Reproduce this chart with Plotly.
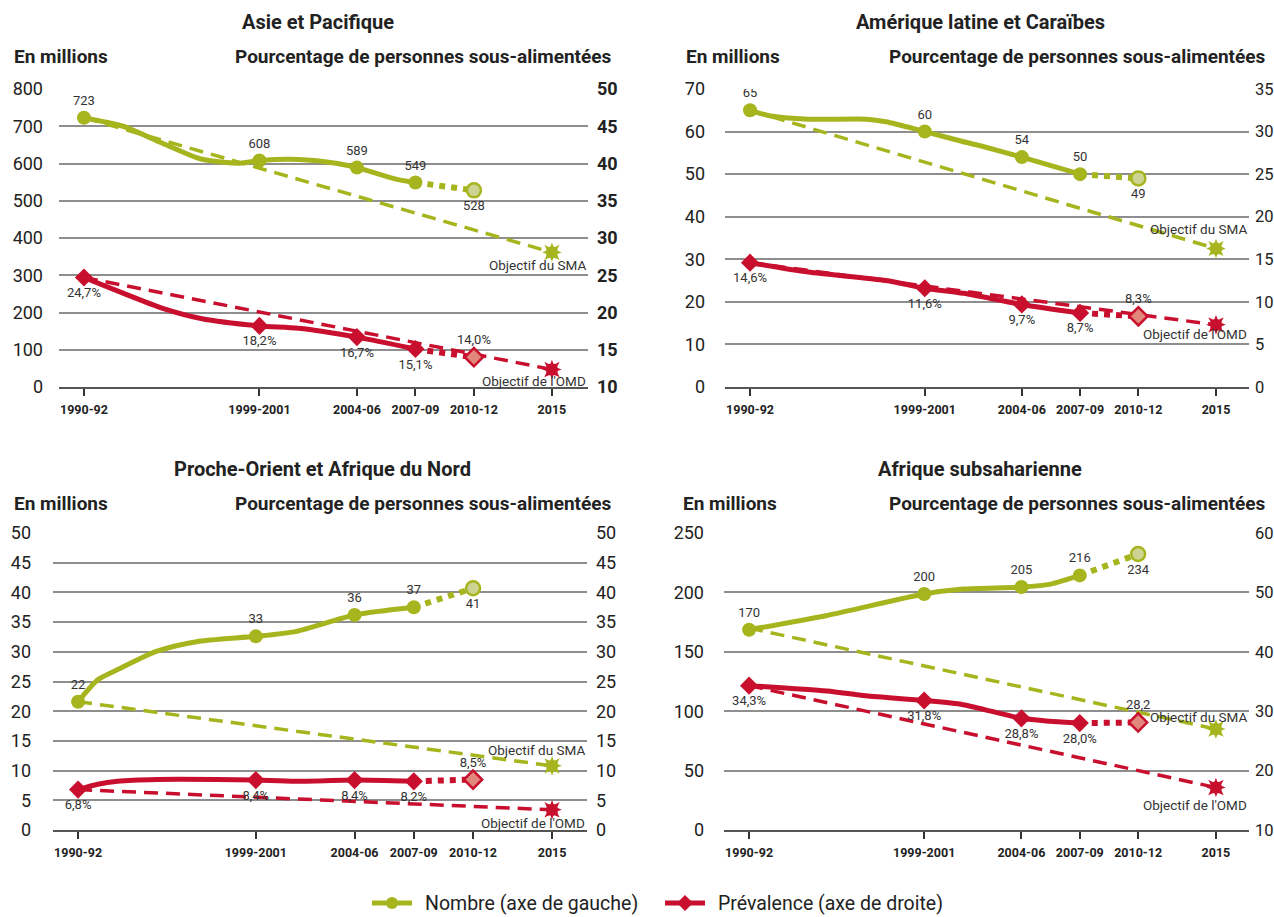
import plotly.graph_objects as go

W, H = 1274, 917

TICK_YEARS = [1991, 2000, 2005, 2008, 2011, 2015]
TICK_LABELS = ["1990-92", "1999-2001", "2004-06", "2007-09", "2010-12", "2015"]
KEY_X = [1991, 2000, 2005, 2008]
PROJ_X = [2008, 2011]
TARGET_X = [1991, 2015]

# ---- Asie et Pacifique ----
asia_num_x = [1991, 1993, 1995, 1997, 1999, 2000, 2002, 2004, 2005, 2007, 2008]
asia_num_y = [723, 700, 655, 612, 601, 608, 611, 600, 589, 558, 549]
asia_num_key = [723, 608, 589, 549]
asia_num_key_lab = ["723", "608", "589", "549"]
asia_num_proj = [549, 528]
asia_num_last_lab = "528"
asia_num_target = [723, 361.5]
asia_prev_x = [1991, 1993, 1995, 1997, 2000, 2002, 2005, 2008]
asia_prev_y = [24.7, 22.6, 20.6, 19.2, 18.2, 17.9, 16.7, 15.1]
asia_prev_key = [24.7, 18.2, 16.7, 15.1]
asia_prev_key_lab = ["24,7%", "18,2%", "16,7%", "15,1%"]
asia_prev_proj = [15.1, 14.0]
asia_prev_last_lab = "14,0%"
asia_prev_target = [24.7, 12.35]

# ---- Amérique latine et Caraïbes ----
lat_num_x = [1991, 1992, 1994, 1997, 1998, 2000, 2002, 2003, 2005, 2008]
lat_num_y = [65, 63.7, 62.9, 62.9, 62.3, 60, 57.6, 56.5, 54, 50]
lat_num_key = [65, 60, 54, 50]
lat_num_key_lab = ["65", "60", "54", "50"]
lat_num_proj = [50, 49]
lat_num_last_lab = "49"
lat_num_target = [65, 32.5]
lat_prev_x = [1991, 1994, 1998, 2000, 2002, 2005, 2008]
lat_prev_y = [14.6, 13.5, 12.5, 11.6, 11.0, 9.7, 8.7]
lat_prev_key = [14.6, 11.6, 9.7, 8.7]
lat_prev_key_lab = ["14,6%", "11,6%", "9,7%", "8,7%"]
lat_prev_proj = [8.7, 8.3]
lat_prev_last_lab = "8,3%"
lat_prev_target = [14.6, 7.3]

# ---- Proche-Orient et Afrique du Nord ----
neaf_num_x = [1991, 1992, 1993, 1995, 1997, 2000, 2002, 2005, 2008]
neaf_num_y = [21.6, 25.3, 27.0, 30.1, 31.7, 32.6, 33.4, 36.2, 37.5]
neaf_num_key = [21.6, 32.6, 36.2, 37.5]
neaf_num_key_lab = ["22", "33", "36", "37"]
neaf_num_proj = [37.5, 40.7]
neaf_num_last_lab = "41"
neaf_num_target = [21.6, 10.8]
neaf_prev_x = [1991, 1992, 1993, 1995, 1998, 2000, 2002, 2005, 2008]
neaf_prev_y = [6.8, 7.7, 8.2, 8.5, 8.5, 8.4, 8.2, 8.4, 8.2]
neaf_prev_key = [6.8, 8.4, 8.4, 8.2]
neaf_prev_key_lab = ["6,8%", "8,4%", "8,4%", "8,2%"]
neaf_prev_proj = [8.2, 8.5]
neaf_prev_last_lab = "8,5%"
neaf_prev_target = [6.8, 3.4]

# ---- Afrique subsaharienne ----
ssa_num_x = [1991, 1995, 2000, 2002, 2005, 2006.5, 2008]
ssa_num_y = [168.5, 180.6, 198.6, 202.8, 204.5, 207, 214.3]
ssa_num_key = [168.5, 198.6, 204.5, 214.3]
ssa_num_key_lab = ["170", "200", "205", "216"]
ssa_num_proj = [214.3, 232.3]
ssa_num_last_lab = "234"
ssa_num_target = [170, 85]
ssa_prev_x = [1991, 1995, 1997, 2000, 2002, 2005, 2006.5, 2008]
ssa_prev_y = [34.3, 33.4, 32.6, 31.8, 31.1, 28.8, 28.3, 28.0]
ssa_prev_key = [34.3, 31.8, 28.8, 28.0]
ssa_prev_key_lab = ["34,3%", "31,8%", "28,8%", "28,0%"]
ssa_prev_proj = [28.0, 28.1]
ssa_prev_last_lab = "28,2"
ssa_prev_target = [34.3, 17.15]

LEGEND_LABELS = ["Nombre (axe de gauche)", "Prévalence (axe de droite)"]

GREEN = "#a6b51d"
GREEN_LIGHT = "#cdd393"
RED = "#c8102e"
RED_LIGHT = "#e2877c"
GRID = "#8e8e8e"
TXT = "#222222"
FONT = "Roboto"

regions = [
    dict(title="Asie et Pacifique",
         num=(asia_num_x, asia_num_y, asia_num_key, asia_num_key_lab, asia_num_proj, asia_num_last_lab, asia_num_target),
         prev=(asia_prev_x, asia_prev_y, asia_prev_key, asia_prev_key_lab, asia_prev_proj, asia_prev_last_lab, asia_prev_target),
         lrange=[0, 800], ldtick=100, rrange=[10, 50], rdtick=5,
         box=(59, 588, 89, 387), xrange=[1989.72, 2016.85],
         title_c=318, title_y=22, lab_y=57, enm_x=12, pct_r=614,
         sma_dy=13, omd_dy=12, rbold=True, lstand=15, rsize=18, rstand=8),
    dict(title="Amérique latine et Caraïbes",
         num=(lat_num_x, lat_num_y, lat_num_key, lat_num_key_lab, lat_num_proj, lat_num_last_lab, lat_num_target),
         prev=(lat_prev_x, lat_prev_y, lat_prev_key, lat_prev_key_lab, lat_prev_proj, lat_prev_last_lab, lat_prev_target),
         lrange=[0, 70], ldtick=10, rrange=[0, 35], rdtick=5,
         box=(725, 1249, 89, 387), xrange=[1989.71, 2016.70],
         title_c=980, title_y=22, lab_y=57, enm_x=684, pct_r=1268,
         sma_dy=-20, omd_dy=9, rbold=False, lstand=19, rsize=16.5, rstand=5),
    dict(title="Proche-Orient et Afrique du Nord",
         num=(neaf_num_x, neaf_num_y, neaf_num_key, neaf_num_key_lab, neaf_num_proj, neaf_num_last_lab, neaf_num_target),
         prev=(neaf_prev_x, neaf_prev_y, neaf_prev_key, neaf_prev_key_lab, neaf_prev_proj, neaf_prev_last_lab, neaf_prev_target),
         lrange=[0, 50], ldtick=5, rrange=[0, 50], rdtick=5,
         box=(53, 587, 533, 830), xrange=[1989.73, 2016.77],
         title_c=322, title_y=469, lab_y=503, enm_x=12, pct_r=614,
         sma_dy=-16, omd_dy=13, rbold=False, lstand=21, rsize=18, rstand=8),
    dict(title="Afrique subsaharienne",
         num=(ssa_num_x, ssa_num_y, ssa_num_key, ssa_num_key_lab, ssa_num_proj, ssa_num_last_lab, ssa_num_target),
         prev=(ssa_prev_x, ssa_prev_y, ssa_prev_key, ssa_prev_key_lab, ssa_prev_proj, ssa_prev_last_lab, ssa_prev_target),
         lrange=[0, 250], ldtick=50, rrange=[10, 60], rdtick=10,
         box=(724, 1249, 533, 830), xrange=[1989.71, 2016.70],
         title_c=980, title_y=469, lab_y=503, enm_x=681, pct_r=1268,
         sma_dy=-12, omd_dy=17, rbold=False, lstand=19, rsize=16.5, rstand=5),
]

fig = go.Figure()
layout = {}
annotations = []
shapes = []

LBL_FONT = dict(family=FONT, size=13, color="#333")


def series_traces(xa, ya, data, color, light, symbol, key_pos, last_pos):
    sx, sy, key, key_lab, proj, last_lab, target = data
    tr = []
    tr.append(go.Scatter(x=TARGET_X, y=target, mode="lines", xaxis=xa, yaxis=ya,
                         line=dict(color=color, width=3.5, dash="14px,8px"),
                         showlegend=False, hoverinfo="skip"))
    for sym in ("star-square", "star-diamond"):
        tr.append(go.Scatter(x=[TARGET_X[-1]], y=[target[-1]], mode="markers", xaxis=xa, yaxis=ya,
                             marker=dict(symbol=sym, size=14, color=color),
                             showlegend=False, hoverinfo="skip"))
    tr.append(go.Scatter(x=PROJ_X, y=proj, mode="lines", xaxis=xa, yaxis=ya,
                         line=dict(color=color, width=6, dash="dot"),
                         showlegend=False, hoverinfo="skip"))
    tr.append(go.Scatter(x=sx, y=sy, mode="lines", xaxis=xa, yaxis=ya,
                         line=dict(color=color, width=5, shape="spline", smoothing=0.7),
                         showlegend=False, hoverinfo="skip"))
    tr.append(go.Scatter(x=KEY_X, y=key, mode="markers+text", xaxis=xa, yaxis=ya,
                         marker=dict(symbol=symbol, size=14, color=color),
                         text=key_lab, textposition=key_pos, textfont=LBL_FONT,
                         showlegend=False, hoverinfo="skip"))
    tr.append(go.Scatter(x=[PROJ_X[-1]], y=[proj[-1]], mode="markers+text", xaxis=xa, yaxis=ya,
                         marker=dict(symbol=symbol, size=14, color=light,
                                     line=dict(color=color, width=2.5)),
                         text=[last_lab], textposition=last_pos, textfont=LBL_FONT,
                         showlegend=False, hoverinfo="skip"))
    return tr


for i, r in enumerate(regions, start=1):
    xname = "x" if i == 1 else f"x{i}"
    li = 2 * i - 1
    ri = 2 * i
    lname = "y" if li == 1 else f"y{li}"
    rname = f"y{ri}"
    x0, x1, y0, y1 = r["box"]
    xdom = [x0 / W, x1 / W]
    ydom = [1 - y1 / H, 1 - y0 / H]

    layout["xaxis" if i == 1 else f"xaxis{i}"] = dict(
        domain=xdom, anchor=lname, range=r["xrange"], tickmode="array",
        tickvals=TICK_YEARS, ticktext=TICK_LABELS, showgrid=False, zeroline=False,
        showline=True, linecolor="#555", linewidth=1.5, ticks="outside", ticklen=7,
        tickwidth=1.5, tickcolor="#333", ticklabelstandoff=3, automargin=False,
        tickfont=dict(family=FONT, size=12.5, color=TXT, weight="bold"), fixedrange=True)
    layout["yaxis" if li == 1 else f"yaxis{li}"] = dict(
        domain=ydom, anchor=xname, range=r["lrange"], dtick=r["ldtick"], tick0=0,
        showgrid=True, gridcolor=GRID, gridwidth=1.5, zeroline=False, showline=False,
        ticks="", ticklabelstandoff=r["lstand"], automargin=False,
        tickfont=dict(family=FONT, size=18, color=TXT), fixedrange=True)
    layout[f"yaxis{ri}"] = dict(
        overlaying=lname, side="right", anchor=xname, range=r["rrange"],
        dtick=r["rdtick"], tick0=0, showgrid=False, zeroline=False, showline=False,
        ticks="", ticklabelstandoff=r["rstand"], automargin=False,
        tickfont=dict(family=FONT, size=r["rsize"], color=TXT,
                      weight=("bold" if r["rbold"] else "normal")), fixedrange=True)

    for t in series_traces(xname, lname, r["num"], GREEN, GREEN_LIGHT, "circle",
                           "top center", "bottom center"):
        fig.add_trace(t)
    for t in series_traces(xname, rname, r["prev"], RED, RED_LIGHT, "diamond",
                           "bottom center", "top center"):
        fig.add_trace(t)

    annotations.append(dict(text=f"<b>{r['title']}</b>", x=r["title_c"] / W, y=1 - r["title_y"] / H,
                            xref="paper", yref="paper", xanchor="center", yanchor="middle",
                            showarrow=False, font=dict(family=FONT, size=20, color=TXT)))
    annotations.append(dict(text="<b>En millions</b>", x=r["enm_x"] / W, y=1 - r["lab_y"] / H,
                            xref="paper", yref="paper", xanchor="left", yanchor="middle",
                            showarrow=False, font=dict(family=FONT, size=19, color=TXT)))
    annotations.append(dict(text="<b>Pourcentage de personnes sous-alimentées</b>",
                            x=r["pct_r"] / W, y=1 - r["lab_y"] / H,
                            xref="paper", yref="paper", xanchor="right", yanchor="middle",
                            showarrow=False, font=dict(family=FONT, size=19, color=TXT)))
    annotations.append(dict(text="Objectif du SMA", x=1, xref=f"{xname} domain", xanchor="right",
                            y=r["num"][6][-1], yref=lname, yanchor="middle", yshift=-r["sma_dy"],
                            showarrow=False, font=dict(family=FONT, size=13.5, color="#333")))
    annotations.append(dict(text="Objectif de l'OMD", x=1, xref=f"{xname} domain", xanchor="right",
                            y=r["prev"][6][-1], yref=rname, yanchor="middle", yshift=-r["omd_dy"],
                            showarrow=False, font=dict(family=FONT, size=13.5, color="#333")))

# manual legend (paper coordinates from pixel positions)
LY = 1 - 903 / H
for (lx0, lx1, tx, color, kind), label in zip(
        [(372, 412, 423, GREEN, "circle"), (665, 705, 716, RED, "diamond")], LEGEND_LABELS):
    shapes.append(dict(type="line", xref="paper", yref="paper", x0=lx0 / W, x1=lx1 / W,
                       y0=LY, y1=LY, line=dict(color=color, width=5)))
    cx = (lx0 + lx1) / 2
    if kind == "circle":
        shapes.append(dict(type="circle", xref="paper", yref="paper",
                           x0=(cx - 6) / W, x1=(cx + 6) / W, y0=LY - 6 / H, y1=LY + 6 / H,
                           fillcolor=color, line=dict(color=color, width=0)))
    else:
        d = 8
        path = (f"M {(cx - d) / W},{LY} L {cx / W},{LY + d / H} "
                f"L {(cx + d) / W},{LY} L {cx / W},{LY - d / H} Z")
        shapes.append(dict(type="path", xref="paper", yref="paper", path=path,
                           fillcolor=color, line=dict(color=color, width=0)))
    annotations.append(dict(text=label, x=tx / W, y=LY, xref="paper", yref="paper",
                            xanchor="left", yanchor="middle", showarrow=False,
                            font=dict(family=FONT, size=19.5, color=TXT)))

fig.update_layout(
    **layout,
    annotations=annotations,
    shapes=shapes,
    width=W, height=H,
    margin=dict(l=0, r=0, t=0, b=0, autoexpand=False),
    paper_bgcolor="white", plot_bgcolor="white",
    font=dict(family=FONT, color=TXT),
    showlegend=False,
)

fig.write_html(
    "out.html",
    config={"displayModeBar": False},
    post_script="document.body.style.margin='0';document.body.style.overflow='hidden';",
)
